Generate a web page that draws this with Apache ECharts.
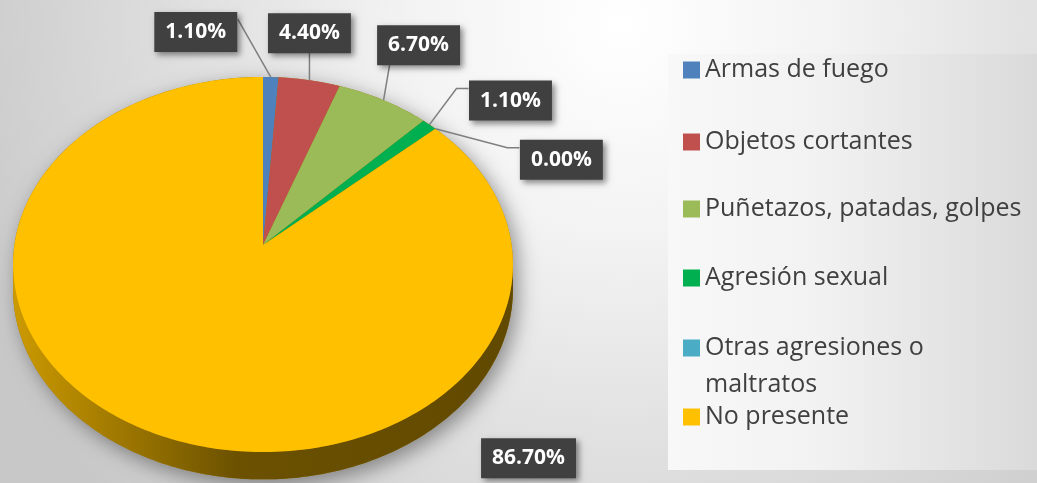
<!DOCTYPE html>
<html>
<head>
    <meta charset="UTF-8">
    <title>Tipo de agresión</title>
    <script type="text/javascript" src="https://cdn.jsdelivr.net/npm/echarts@6/dist/echarts.min.js"></script>
</head>
<body style="margin: 0;padding: 0;">
    <div id="container" style="width:1037px; height:483px;"></div>
    <script>
        // datos
        var categories = ['Armas de fuego', 'Objetos cortantes', 'Puñetazos, patadas, golpes',
            'Agresión sexual', 'Otras agresiones o maltratos', 'No presente'];
        var values = [1.1, 4.4, 6.7, 1.1, 0, 86.7];
        var colors = ['#4F81BD', '#C0504D', '#9BBB59', '#00B050', '#4BACC6', '#FFC000'];

        // disposicion (leyenda y etiquetas)
        var legendY = [70, 142, 209, 278, 348, 417];
        var labelOffset = [[-75, -45], [0, -47], [35, -55], [81, -24], [126, 31], [377, 26]];
        var leaderEnd = [[42, -13], [0, 20], [-29, 20], [-42, -12], [-42, -12], null];
        var leaderElbow = [false, false, false, true, true, false];

        // pastel 3D en perspectiva
        var cx = 263, cy = 245, A = 248.6, B = 185.5, K = 0.104, DEPTH = 24.5;
        var SIDE = Math.acos(-K) * 180 / Math.PI; // borde izquierdo/derecho visible

        function proj(deg, drop) {
            var t = deg * Math.PI / 180;
            var u = Math.sin(t), v = -Math.cos(t), w = 1 - K * v;
            return [cx + A * u / w, cy + (B * v + (drop || 0)) / w];
        }

        function arc(a0, a1, drop) {
            var pts = [];
            var n = Math.max(2, Math.ceil(Math.abs(a1 - a0)));
            for (var j = 0; j <= n; j++) {
                pts.push(proj(a0 + (a1 - a0) * j / n, drop));
            }
            return pts;
        }

        function shade(hex, f) {
            var c = echarts.color.parse(hex);
            return 'rgb(' + Math.round(c[0] * f) + ',' + Math.round(c[1] * f) + ',' + Math.round(c[2] * f) + ')';
        }

        var total = values.reduce(function (s, x) { return s + x; }, 0);
        var startDeg = [];
        var acc = 0;
        for (var i = 0; i < values.length; i++) {
            startDeg.push(acc / total * 360);
            acc += values[i];
        }

        function renderSlice(params, api) {
            var i = params.seriesIndex;
            var a0 = startDeg[i], a1 = a0 + values[i] / total * 360;
            var color = api.visual('color');
            var children = [];

            // pared frontal
            var f0 = Math.max(a0, SIDE), f1 = Math.min(a1, 360 - SIDE);
            if (f1 > f0) {
                var wall = arc(f0, f1, 0).concat(arc(f1, f0, DEPTH));
                children.push({
                    type: 'polygon',
                    shape: { points: wall },
                    style: {
                        fill: new echarts.graphic.LinearGradient(0, 0, 1, 0, [
                            { offset: 0, color: shade(color, 0.8) },
                            { offset: 0.3, color: shade(color, 0.55) },
                            { offset: 0.45, color: shade(color, 0.42) },
                            { offset: 1, color: shade(color, 0.38) }
                        ])
                    }
                });
            }

            // cara superior
            if (a1 > a0) {
                children.push({
                    type: 'polygon',
                    shape: { points: [[cx, cy]].concat(arc(a0, a1, 0)) },
                    style: { fill: color }
                });
            }

            // etiqueta
            var anchor = proj((a0 + a1) / 2, 0);
            var bx = anchor[0] + labelOffset[i][0], by = anchor[1] + labelOffset[i][1];
            if (leaderEnd[i]) {
                var end = [bx + leaderEnd[i][0], by + leaderEnd[i][1]];
                var pts = leaderElbow[i] ? [anchor, [end[0] - 12, end[1]], end] : [anchor, end];
                children.push({
                    type: 'polyline',
                    shape: { points: pts },
                    style: { stroke: '#7f7f7f', lineWidth: 1.5, fill: null },
                    z2: 5
                });
            }
            children.push({
                type: 'text',
                x: bx,
                y: by,
                z2: 10,
                style: {
                    text: values[i].toFixed(2) + '%',
                    align: 'center',
                    verticalAlign: 'middle',
                    fill: '#ffffff',
                    font: 'bold 21px "Open Sans"',
                    lineHeight: 24,
                    backgroundColor: '#404040',
                    padding: [8, 11],
                    shadowBlur: 6,
                    shadowColor: 'rgba(0,0,0,0.45)',
                    shadowOffsetX: 3,
                    shadowOffsetY: 3
                }
            });
            return { type: 'group', children: children };
        }

        var chart = echarts.init(document.getElementById('container'), null, { renderer: 'canvas' });

        var silhouette = arc(360 - SIDE, 360 + SIDE, 0).concat(arc(SIDE, 360 - SIDE, DEPTH));

        var legends = categories.map(function (name, i) {
            var twoLines = name === 'Otras agresiones o maltratos';
            var lh = twoLines ? 37 : 30;
            return {
                data: [name],
                orient: 'vertical',
                left: 683,
                top: twoLines ? legendY[i] - lh * 1.5 : legendY[i] - lh / 2,
                padding: 0,
                itemWidth: 17,
                itemHeight: 17,
                icon: 'rect',
                selectedMode: false,
                // linea vacia arriba para que la primera linea quede junto al icono
                formatter: function (n) {
                    return n === 'Otras agresiones o maltratos' ? '\nOtras agresiones o\nmaltratos' : n;
                },
                textStyle: {
                    fontFamily: 'Open Sans',
                    fontSize: 25,
                    color: '#404040',
                    lineHeight: lh
                }
            };
        });

        var option = {
            animation: false,
            color: colors,
            backgroundColor: {
                type: 'radial', x: 0.6, y: 0.05, r: 1.45,
                colorStops: [
                    { offset: 0, color: '#ffffff' },
                    { offset: 0.3, color: '#f3f3f3' },
                    { offset: 1, color: '#c8c8c8' }
                ]
            },
            graphic: [{
                type: 'rect',
                z: 0,
                shape: { x: 668, y: 54, width: 369, height: 416 },
                style: {
                    fill: new echarts.graphic.LinearGradient(0, 0, 1, 0, [
                        { offset: 0, color: '#f8f8f8' },
                        { offset: 0.4, color: '#f2f2f2' },
                        { offset: 1, color: '#dadada' }
                    ])
                }
            }, {
                type: 'polygon',
                z: 1,
                shape: { points: silhouette },
                style: {
                    fill: '#a07800',
                    shadowBlur: 20,
                    shadowColor: 'rgba(0,0,0,0.4)',
                    shadowOffsetX: 5,
                    shadowOffsetY: 6
                }
            }],
            legend: legends,
            series: categories.map(function (name, i) {
                return {
                    type: 'custom',
                    name: name,
                    coordinateSystem: 'none',
                    data: [values[i]],
                    renderItem: renderSlice
                };
            })
        };
        chart.setOption(option);
    </script>
</body>
</html>
